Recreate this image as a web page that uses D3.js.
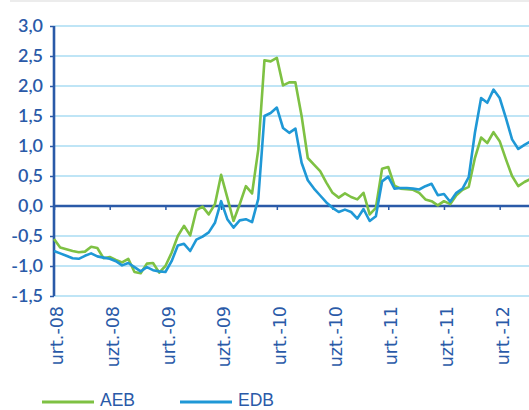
<!DOCTYPE html>
<html>
<head>
<meta charset="utf-8">
<script src="https://cdn.jsdelivr.net/npm/d3@7"></script>
<style>
  body { margin: 0; background: #fff; }
  svg { display: block; }
</style>
</head>
<body>
<div id="chart"></div>
<script>
// series, one value per period
let aeb = [-0.55, -0.69, -0.72, -0.75, -0.77, -0.76, -0.68, -0.70, -0.87, -0.85,
    -0.90, -0.94, -0.88, -1.10, -1.12, -0.96, -0.95, -1.11, -1.00, -0.78,
    -0.50, -0.33, -0.49, -0.07, -0.01, -0.14, 0.03, 0.52, 0.14, -0.25,
    0.03, 0.33, 0.21, 0.94, 2.43, 2.41, 2.47, 2.01, 2.06, 2.06,
    1.50, 0.80, 0.69, 0.58, 0.39, 0.22, 0.14, 0.21, 0.15, 0.11,
    0.22, -0.14, -0.03, 0.62, 0.65, 0.34, 0.29, 0.28, 0.27, 0.22,
    0.11, 0.08, 0.01, 0.08, 0.03, 0.18, 0.27, 0.32, 0.80, 1.14,
    1.05, 1.23, 1.08, 0.78, 0.50, 0.33, 0.40, 0.45];

let edb = [-0.75, -0.79, -0.83, -0.87, -0.88, -0.83, -0.79, -0.84, -0.86, -0.88,
    -0.92, -0.99, -0.95, -1.02, -1.09, -1.02, -1.07, -1.09, -1.10, -0.92,
    -0.66, -0.63, -0.75, -0.56, -0.51, -0.44, -0.28, 0.08, -0.22, -0.36,
    -0.24, -0.22, -0.27, 0.12, 1.50, 1.55, 1.64, 1.30, 1.22, 1.29,
    0.72, 0.43, 0.29, 0.175, 0.06, -0.03, -0.10, -0.06, -0.10, -0.21,
    -0.05, -0.25, -0.17, 0.41, 0.49, 0.29, 0.30, 0.30, 0.29, 0.275,
    0.33, 0.37, 0.18, 0.20, 0.07, 0.22, 0.29, 0.48, 1.22, 1.80,
    1.72, 1.94, 1.80, 1.47, 1.11, 0.95, 1.02, 1.08];

let seriesNames = ['AEB', 'EDB'];
let xLabels = ['urt.-08', 'uzt.-08', 'urt.-09', 'uzt.-09', 'urt.-10', 'uzt.-10', 'urt.-11', 'uzt.-11', 'urt.-12'];
let labelEvery = 9; // one label every 9 periods
let yTicks = [-1.5, -1.0, -0.5, 0, 0.5, 1.0, 1.5, 2.0, 2.5, 3.0];

//chart constants
let totalWidth = 529;
let totalHeight = 410;
let margins = { top: 26, left: 54, bottom: 114 };
let step = 6.19;

let navy = '#2a5aa8';
let gridColor = '#aadcf3';
let colors = ['#7ec143', '#1f98d6'];

let svg = d3.select('#chart')
    .append('svg')
    .attr('width', totalWidth)
    .attr('height', totalHeight);

let xScale = d3.scaleLinear()
    .domain([0, aeb.length - 1])
    .range([margins.left, margins.left + step * (aeb.length - 1)]);

let yScale = d3.scaleLinear()
    .domain([-1.5, 3.0])
    .range([totalHeight - margins.bottom, margins.top]);

// thin grey rule on top
svg.append('line')
    .attr('x1', 10).attr('x2', totalWidth)
    .attr('y1', 1).attr('y2', 1)
    .style('stroke', '#ececec')
    .style('stroke-width', 2);

// horizontal gridlines
svg.append('g')
    .selectAll('line')
    .data(yTicks.filter(d => d !== 0))
    .enter()
    .append('line')
    .attr('x1', margins.left)
    .attr('x2', totalWidth)
    .attr('y1', d => yScale(d))
    .attr('y2', d => yScale(d))
    .style('stroke', gridColor)
    .style('stroke-width', 1.5);

// y axis
let yAxis = d3.axisLeft(yScale)
    .tickValues(yTicks)
    .tickSize(4)
    .tickPadding(7)
    .tickFormat(d => d3.format('.1f')(d).replace('.', ',').replace('−', '-'));

let yAxisG = svg.append('g')
    .attr('transform', `translate(${margins.left}, 0)`)
    .call(yAxis);
yAxisG.select('.domain')
    .attr('d', `M0,${yScale(3.0)}V${yScale(-1.5)}`)
    .style('stroke', navy)
    .style('stroke-width', 2.6);
yAxisG.selectAll('.tick line').style('stroke', navy).style('stroke-width', 1.5);
yAxisG.selectAll('.tick text')
    .style('font-family', 'Lato, sans-serif')
    .style('font-weight', 600)
    .style('font-size', '18px')
    .style('fill', navy);

// x axis sitting on zero
let tickIdx = xLabels.map((d, i) => i * labelEvery);
let xAxis = d3.axisBottom(xScale)
    .tickValues(tickIdx)
    .tickSize(4)
    .tickFormat('');

let xAxisG = svg.append('g')
    .attr('transform', `translate(0, ${yScale(0)})`)
    .call(xAxis);
xAxisG.select('.domain').remove();
xAxisG.append('line')
    .attr('x1', margins.left).attr('x2', totalWidth)
    .style('stroke', navy)
    .style('stroke-width', 2.6);
xAxisG.selectAll('.tick line').style('stroke', navy).style('stroke-width', 1.5);

// rotated period labels under the plot
svg.append('g')
    .selectAll('text')
    .data(xLabels)
    .enter()
    .append('text')
    .attr('transform', (d, i) => `translate(${xScale(i * labelEvery) + 3}, ${yScale(-1.5) + 10}) rotate(-90)`)
    .attr('dy', '0.35em')
    .style('text-anchor', 'end')
    .style('font-family', 'DejaVu Sans, sans-serif')
    .style('font-size', '17.5px')
    .style('fill', navy)
    .text(d => d);

// lines
let line = d3.line()
    .x((d, i) => xScale(i))
    .y(d => yScale(d));

[aeb, edb].forEach(function(series, k) {
    svg.append('path')
        .datum(series)
        .attr('d', line)
        .style('fill', 'none')
        .style('stroke', colors[k])
        .style('stroke-width', 2.6)
        .style('stroke-linejoin', 'round');
});

// legend
let legend = svg.selectAll('.legend')
    .data(seriesNames)
    .enter()
    .append('g')
    .attr('class', 'legend')
    .attr('transform', (d, i) => `translate(${42 + i * 138}, 402)`);

legend.append('line')
    .attr('x1', 0).attr('x2', 52)
    .style('stroke', (d, i) => colors[i])
    .style('stroke-width', 3);

legend.append('text')
    .attr('x', 58)
    .attr('y', 4)
    .style('font-family', 'Liberation Sans, Arial, sans-serif')
    .style('font-size', '17.5px')
    .style('fill', navy)
    .text(d => d);
</script>
</body>
</html>
